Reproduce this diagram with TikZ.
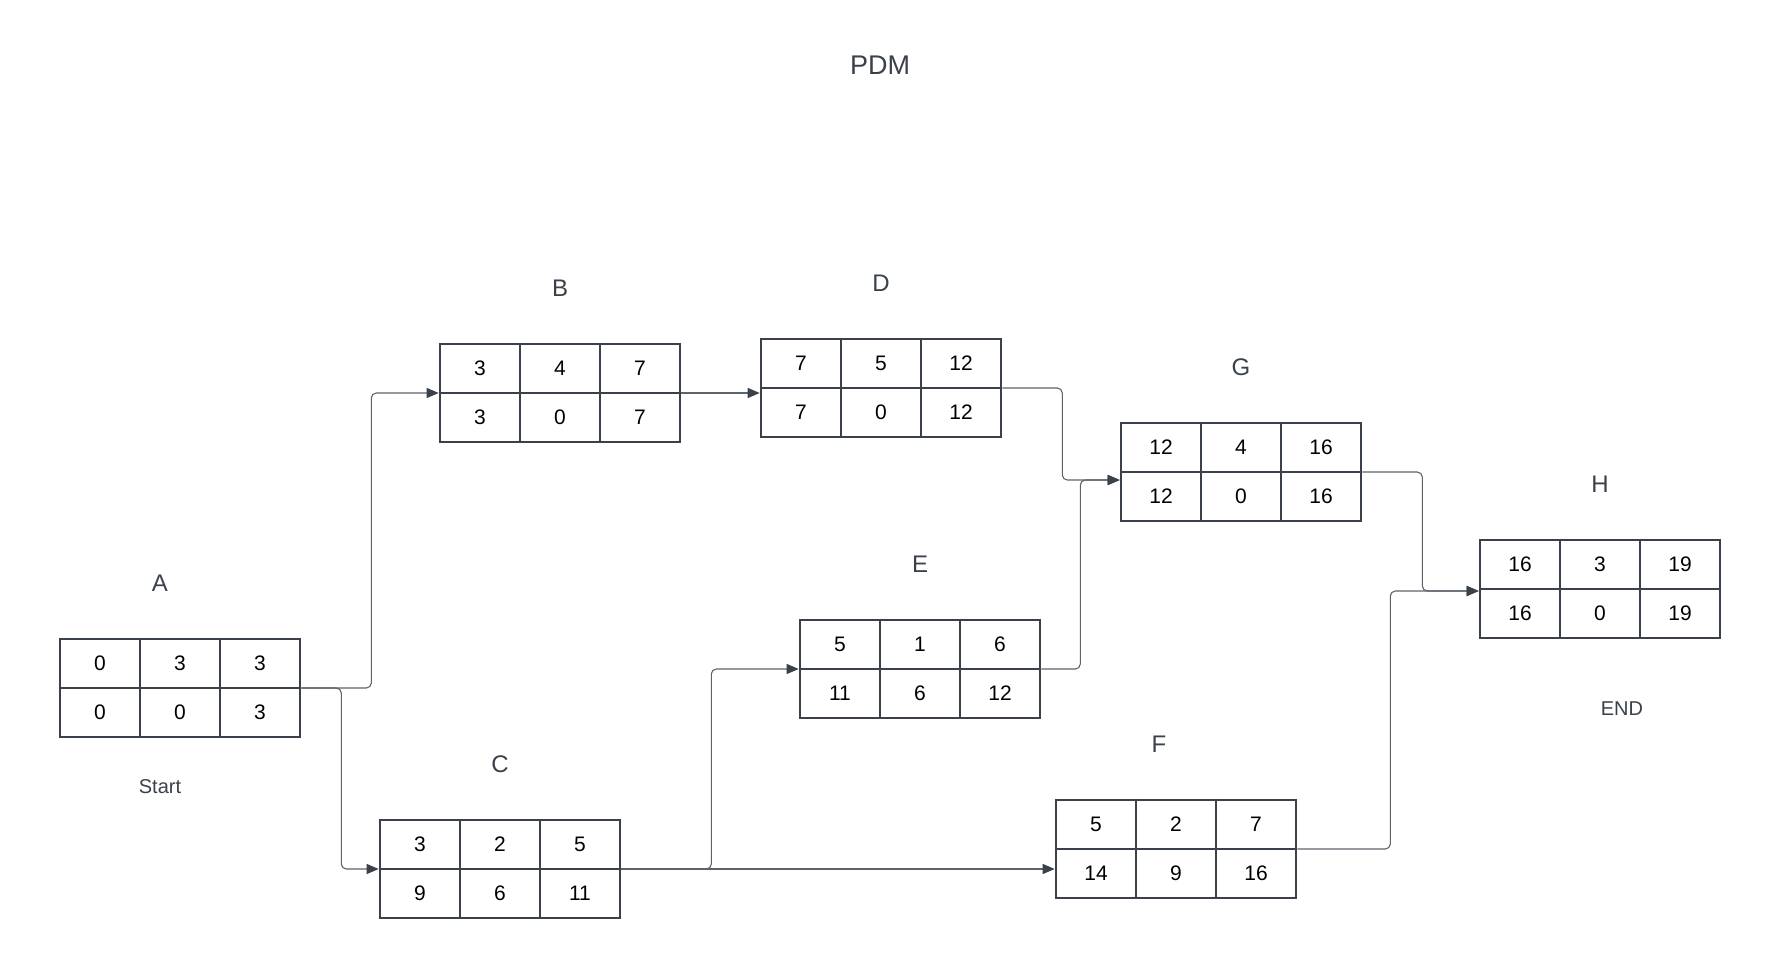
\documentclass[tikz,border=0pt]{standalone}
\usepackage{fontspec}
\setmainfont{Liberation Sans}
\usepackage{tikz}
\usetikzlibrary{arrows.meta,positioning,calc}
\definecolor{boxgray}{HTML}{3A414A}
\definecolor{linkgray}{HTML}{5D636B}
\tikzset{
  actbox/.style={draw=boxgray,line width=2.6pt,minimum width=240pt,minimum height=98pt,inner sep=0pt},
  cellline/.style={draw=boxgray,line width=2.6pt},
  num/.style={font=\fontsize{21}{25}\selectfont,text=black,inner sep=1pt},
  actlabel/.style={font=\fontsize{24}{28}\selectfont,text=boxgray},
  note/.style={font=\fontsize{20}{24}\selectfont,text=boxgray},
  link/.style={-{Triangle[length=12pt,width=10pt,color=boxgray,fill=boxgray]},line width=1.1pt,draw=linkgray,rounded corners=5pt}
}

\begin{document}
\begin{tikzpicture}[x=1pt,y=-1pt]
  \useasboundingbox (0,0) rectangle (1780,959);

  % title
  \node[font=\fontsize{27}{32}\selectfont,text=boxgray] (pdm) at (880,65) {PDM};

  % activity boxes
  \foreach \n/\x/\y/\es/\du/\ef/\ls/\sl/\lf/\lx in {
      A/180/688/0/3/3/0/0/3/-20,
      B/560/393/3/4/7/3/0/7/0,
      D/881/388/7/5/12/7/0/12/0,
      G/1241/472/12/4/16/12/0/16/0,
      H/1600/589/16/3/19/16/0/19/0,
      E/920/669/5/1/6/11/6/12/0,
      C/500/869/3/2/5/9/6/11/0,
      F/1176/849/5/2/7/14/9/16/-17} {
    \node[actbox] (\n) at (\x,\y) {};
    \draw[cellline] (\n.west) -- (\n.east);
    \draw[cellline] ([xshift=-40pt]\n.north) -- ([xshift=-40pt]\n.south);
    \draw[cellline] ([xshift=40pt]\n.north) -- ([xshift=40pt]\n.south);
    \node[num] (\n-es) at ([xshift=-80pt,yshift=24.5pt]\n.center) {\es};
    \node[num] (\n-du) at ([yshift=24.5pt]\n.center) {\du};
    \node[num] (\n-ef) at ([xshift=80pt,yshift=24.5pt]\n.center) {\ef};
    \node[num] (\n-ls) at ([xshift=-80pt,yshift=-24.5pt]\n.center) {\ls};
    \node[num] (\n-sl) at ([yshift=-24.5pt]\n.center) {\sl};
    \node[num] (\n-lf) at ([xshift=80pt,yshift=-24.5pt]\n.center) {\lf};
    \node[actlabel] (\n-lab) at ([xshift=\lx pt,yshift=54pt]\n.north) {\n};
  }

  \node[note] (start) at (160,787) {Start};
  \node[note] (end) at (1622,709) {END};

  % links
  \draw[link] (A.east) -- ++(70,0) |- (B.west);
  \draw[link] (A.east) -- ++(40,0) |- (C.west);
  \draw[link] (B.east) -- (B.east -| D.west);
  \draw[link] (D.east) -- ++(60,0) |- ([yshift=-8pt]G.west);
  \draw[link] (E.east) -- ++(39,0) |- ([yshift=-8pt]G.west);
  \draw[link] (C.east) -- ++(90,0) |- (E.west);
  \draw[link] (C.east) -- (C.east -| F.west);
  \draw[link] (G.east) -- ++(60,0) |- ([yshift=-2pt]H.west);
  \draw[link] (F.east) -- ++(93,0) |- ([yshift=-2pt]H.west);
\end{tikzpicture}
\end{document}
